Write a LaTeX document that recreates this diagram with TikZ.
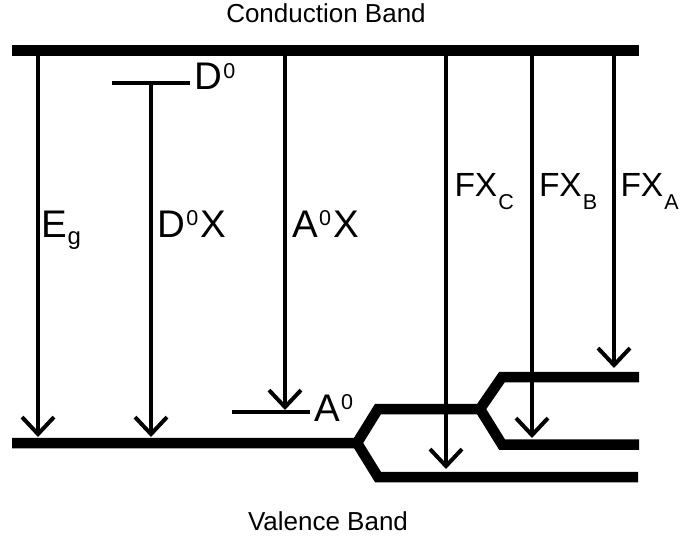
\documentclass[tikz,border=0pt]{standalone}
\usepackage{fontspec}
\setmainfont{Liberation Sans}
\usetikzlibrary{arrows.meta}
\newcommand\bigfs{\fontsize{38.5}{40}\selectfont}
\newcommand\fxfs{\fontsize{33.5}{35}\selectfont}
\newcommand\smfs{\fontsize{21.5}{22}\selectfont}
\newcommand\supzero{\kern1.5pt\raisebox{11.5pt}{\smfs 0}\kern2pt}
\newcommand\subfx[1]{\kern1pt\raisebox{-13.5pt}{\smfs #1}}
\begin{document}
\begin{tikzpicture}[x=1pt,y=-1pt,
  band/.style={line width=10.5pt,line join=miter},
  level/.style={line width=4pt},
  trans/.style={line width=4pt,-{Straight Barb[length=17pt,width=32pt,line width=4pt]}},
  lab/.style={anchor=base west,inner sep=0pt,outer sep=0pt},
  title/.style={inner sep=0pt,font=\fontsize{26}{28}\selectfont}]
\useasboundingbox (0,0) rectangle (686,540);
% titles
\node[title] (cb) at (326,13.5) {Conduction Band};
\node[title] (vb) at (328,521) {Valence Band};
% conduction band
\coordinate (cbL) at (12,50.5);
\coordinate (cbR) at (639,50.5);
\draw[band] (cbL) -- (cbR);
% valence band with splitting
\coordinate (vL) at (12,443);
\coordinate (s1) at (357,443);
\coordinate (u1) at (378,409);
\coordinate (s2) at (480,409);
\coordinate (u2) at (502,377);
\coordinate (u2R) at (639,377);
\coordinate (d2) at (502,444.5);
\coordinate (d2R) at (639,444.5);
\coordinate (d1) at (378,477);
\coordinate (d1R) at (638,477);
\draw[band] (vL) -- (s1) -- (u1) -- (s2) -- (u2) -- (u2R);
\draw[band] (s1) -- (d1) -- (d1R);
\draw[band] (s2) -- (d2) -- (d2R);
% impurity levels
\coordinate (D0a) at (112,83);
\coordinate (D0b) at (190,83);
\coordinate (A0a) at (232,412);
\coordinate (A0b) at (310,412);
\draw[level] (D0a) -- (D0b);
\draw[level] (A0a) -- (A0b);
% transitions
\coordinate (eg1) at (38,50.5);  \coordinate (eg2) at (38,437);
\coordinate (dx1) at (151,83);   \coordinate (dx2) at (151,437);
\coordinate (ax1) at (285,50.5); \coordinate (ax2) at (285,410);
\coordinate (fc1) at (446,50.5); \coordinate (fc2) at (446,469);
\coordinate (fb1) at (532,50.5); \coordinate (fb2) at (532,438);
\coordinate (fa1) at (614,50.5); \coordinate (fa2) at (614,368);
\draw[trans] (eg1) -- (eg2);
\draw[trans] (dx1) -- (dx2);
\draw[trans] (ax1) -- (ax2);
\draw[trans] (fc1) -- (fc2);
\draw[trans] (fb1) -- (fb2);
\draw[trans] (fa1) -- (fa2);
% labels
\node[lab] (lEg) at (41,238) {\bigfs E\kern1pt\raisebox{-6.5pt}{\fontsize{24}{24}\selectfont g}};
\node[lab] (lDX) at (157,237.5) {\bigfs D\supzero X};
\node[lab] (lAX) at (292,237.5) {\bigfs A\supzero X};
\node[lab] (lD0) at (194,90) {\bigfs D\supzero};
\node[lab] (lA0) at (314,421) {\bigfs A\supzero};
\node[lab] (lFC) at (454.5,196.5) {\fxfs FX\subfx{C}};
\node[lab] (lFB) at (539,196.5) {\fxfs FX\subfx{B}};
\node[lab] (lFA) at (620.5,196.5) {\fxfs FX\subfx{A}};
\end{tikzpicture}
\end{document}
